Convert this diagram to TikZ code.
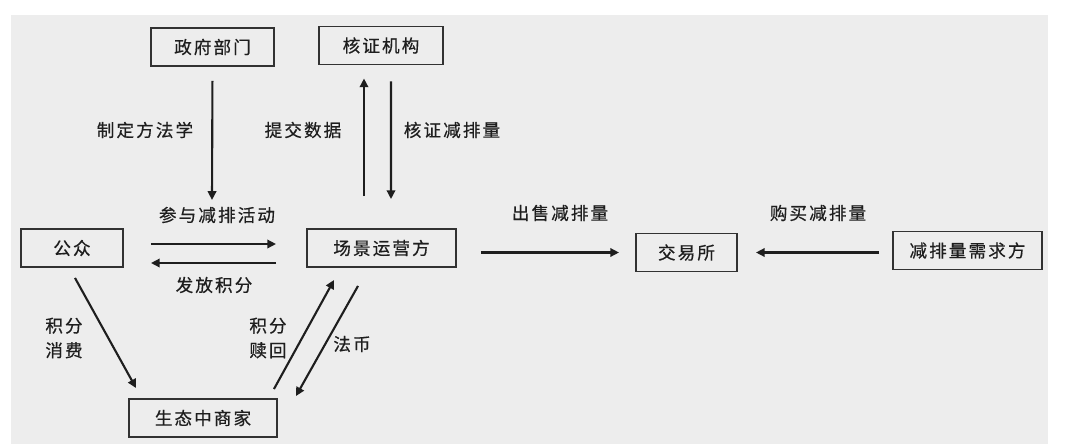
\documentclass[tikz,border=0pt]{standalone}
\usepackage{fontspec}
\newfontfamily\cjk[LetterSpace=12, FakeBold=0.6]{Noto Sans CJK SC}
\usepackage{tikz}
\usetikzlibrary{arrows.meta, calc}
\definecolor{panelgray}{RGB}{237, 237, 237}
\definecolor{boxline}{RGB}{50, 50, 50}
\definecolor{inkdark}{RGB}{30, 30, 30}

\begin{document}
\begin{tikzpicture}[x=0.02cm, y=-0.02cm, >={Triangle[length=5pt, width=4.8pt]},
  party/.style={draw=boxline, line width=1.1pt, minimum height=0.76cm,
    inner sep=2pt, text=inkdark, font=\cjk\fontsize{10}{12}\selectfont},
  flow/.style={->, inkdark, line width=1.2pt},
  tag/.style={text=inkdark, font=\cjk\fontsize{10}{14}\selectfont, align=center}]

  % Page and panel
  \useasboundingbox (0,0) rectangle (1080,444);
  \fill[white] (0,0) rectangle (1080,444);
  \fill[panelgray] (11,15) rectangle (1048,444);

  % Parties
  \node[party, minimum width=2.46cm] (gov)      at (212.5,47)   {政府部门};
  \node[party, minimum width=2.48cm] (verify)   at (381,45.5)   {核证机构};
  \node[party, minimum width=2.04cm] (public)   at (72,248)     {公众};
  \node[party, minimum width=2.98cm] (ops)      at (381.5,248)  {场景运营方};
  \node[party, minimum width=2.96cm] (merchant) at (203,418)    {生态中商家};
  \node[party, minimum width=2.02cm] (exchange) at (686.5,252.5){交易所};
  \node[party, minimum width=2.98cm] (demand)   at (967.5,250.5){减排量需求方};

  % Methodology from government
  \coordinate (govend) at (212,200);
  \draw[flow, shorten <=0.28cm] (gov.south) -- (govend);
  \node[tag] (lmethod) at (145,130) {制定方法学};

  % Data up, verified reductions down
  \draw[flow, shorten <=0.64cm, shorten >=0.26cm]
    ($(ops.north)+(-17.5,0)$) -- ($(verify.south)+(-17,0)$);
  \node[tag] (lsubmit) at (303,130) {提交数据};
  \draw[flow, shorten <=0.32cm, shorten >=0.58cm]
    ($(verify.south)+(10,0)$) -- ($(ops.north)+(9.5,0)$);
  \node[tag] (lverify) at (452,130) {核证减排量};

  % Public and operator
  \draw[flow, shorten <=0.54cm, shorten >=0.6cm]
    ($(public.east)+(0,-4)$) -- ($(ops.west)+(0,-4)$);
  \node[tag] (ljoin) at (217,215) {参与减排活动};
  \draw[flow, shorten <=0.6cm, shorten >=0.54cm]
    ($(ops.west)+(0,15)$) -- ($(public.east)+(0,15)$);
  \node[tag] (lissue) at (214,285) {发放积分};

  % Trading
  \draw[flow, shorten <=0.48cm, shorten >=0.32cm] (ops.east |- exchange) -- (exchange.west);
  \node[tag] (lsell) at (560,213) {出售减排量};
  \draw[flow, shorten <=0.26cm, shorten >=0.36cm] (demand.west |- exchange) -- (exchange.east);
  \node[tag] (lbuy) at (818,213) {购买减排量};

  % Merchant triangle
  \draw[flow] ($(public.south)+(3,10)$) -- ($(merchant.north west)+(8,-10)$);
  \node[tag] (lspend) at (64,338) {积分\\消费};
  \draw[flow] ($(merchant.north east)+(-4,-9)$) -- ($(ops.south west)+(28,12)$);
  \node[tag] (lredeem) at (268,338) {积分\\赎回};
  \draw[flow] ($(ops.south)+(-23.5,18)$) -- ($(merchant.north east)+(18,-2)$);
  \node[tag] (lfiat) at (352,344) {法币};

\end{tikzpicture}
\end{document}
